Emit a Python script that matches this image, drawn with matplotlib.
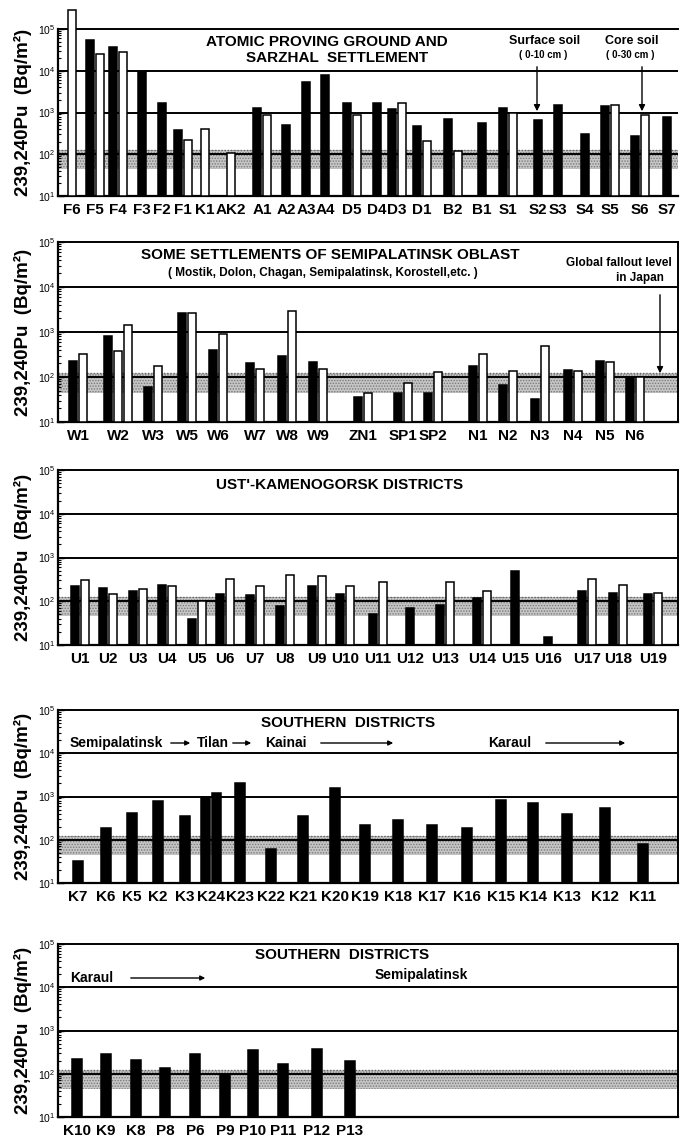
import matplotlib
matplotlib.use('Agg')
import matplotlib.pyplot as plt
from matplotlib import font_manager
from matplotlib.patches import FancyArrowPatch
from matplotlib.ticker import LogLocator, NullFormatter

# ---- data (Bq/m2), None = no bar, tuple = several bars of that kind ----
labels1 = ['F6', 'F5', 'F4', 'F3', 'F2', 'F1', 'K1', 'AK2', 'A1', 'A2', 'A3', 'A4', 'D5',
           'D4', 'D3', 'D1', 'B2', 'B1', 'S1', 'S2', 'S3', 'S4', 'S5', 'S6', 'S7']
black1 = [None, 5.5e4, 3.7e4, 9.5e3, 1.7e3, 390, None, None, 1.3e3, 500, 5.5e3, 8e3, 1.7e3,
          1.65e3, 1.2e3, 470, 690, 550, 1.3e3, 660, 1.5e3, 310, 1.43e3, 270, 770]
white1 = [2.8e5, 2.5e4, 2.8e4, None, None, 225, 400, 110, 870, None, None, None, 880,
          None, 1.7e3, 210, 120, None, 1.0e3, None, None, None, 1.55e3, 870, None]

labels2 = ['W1', 'W2', 'W3', 'W5', 'W6', 'W7', 'W8', 'W9', 'ZN1', 'SP1', 'SP2',
           'N1', 'N2', 'N3', 'N4', 'N5', 'N6']
black2 = [228, 800, 60, 2600, 400, 200, 300, 220, 36, 45, 43, 175, 65, 32, 140, 228, 102]
white2 = [330, (370, 1400), 180, 2700, 900, 150, 3000, 150, 43, 72, 130, 330, 134, 480, 134, 215, 100]

labels3 = ['U1', 'U2', 'U3', 'U4', 'U5', 'U6', 'U7', 'U8', 'U9', 'U10', 'U11', 'U12', 'U13',
           'U14', 'U15', 'U16', 'U17', 'U18', 'U19']
black3 = [228, 197, 175, 240, 39, 149, 137, 76, 228, 148, 51, 69, 81, 119, 500, 15, 175, 155, 144]
white3 = [300, 144, 190, 220, 100, 330, 220, 405, 370, 220, 270, None, 270, 170, None, None, 330, 235, 155]

labels4 = ['K7', 'K6', 'K5', 'K2', 'K3', 'K24', 'K23', 'K22', 'K21', 'K20', 'K19', 'K18',
           'K17', 'K16', 'K15', 'K14', 'K13', 'K12', 'K11']
black4 = [33, 188, 405, 780, 350, (950, 1200), 2000, 61, 350, 1550, 225, 280, 215, 190,
          820, 720, 390, 530, 81]

labels5 = ['K10', 'K9', 'K8', 'P8', 'P6', 'P9', 'P10', 'P11', 'P12', 'P13']
black5 = [218, 285, 210, 133, 280, 100, 355, 170, 370, 193]

band_low, band_high = 45, 125   # global fallout level in Japan

# ---- layout: label centres along each panel, in figure pixels ----
x1 = [72, 95, 118, 142, 162, 183, 205, 231, 262, 286, 306, 325, 352,
      377, 397, 422, 453, 482, 508, 538, 558, 585, 610, 640, 667]
x2 = [78, 118, 153, 187, 218, 255, 287, 318, 363, 403, 433, 478, 508, 540, 573, 605, 635]
x3 = [80, 108, 138, 167, 197, 225, 255, 285, 317, 345, 378, 410, 445, 482, 515, 548, 587, 618, 653]
x4 = [78, 106, 132, 158, 185, 211, 240, 271, 303, 335, 365, 398, 432, 467, 501, 533, 567, 605, 643]
x5 = [77, 106, 136, 165, 195, 225, 253, 283, 317, 350]

W, H = 680, 1147
names = {f.name for f in font_manager.fontManager.ttflist}
FONT = 'Liberation Sans Narrow' if 'Liberation Sans Narrow' in names else 'Liberation Sans'
plt.rcParams['font.family'] = [FONT, 'DejaVu Sans']
plt.rcParams['hatch.linewidth'] = 0.7

fig = plt.figure(figsize=(W / 100, H / 100), dpi=100)


def fp(x, y):
    return (x / W, 1 - y / H)


def as_list(v):
    if v is None:
        return []
    if isinstance(v, tuple):
        return list(v)
    return [v]


def make_ax(top, bottom, right_spine=True):
    ax = fig.add_axes([58 / W, 1 - bottom / H, 620 / W, (bottom - top) / H])
    ax.set_yscale('log')
    ax.set_xlim(58, 678)
    ax.set_ylim(10, 1e5)
    ax.axhspan(band_low, band_high, facecolor='#c6c6c6', edgecolor='#7a7a7a',
               hatch='......', linewidth=0, zorder=1)
    ax.axhline(band_high, color='#666666', lw=1.0, ls=(0, (1, 1.3)), zorder=1)
    for v in (1e2, 1e3, 1e4):
        ax.axhline(v, color='black', lw=1.4, zorder=2)
    for s in ('left', 'bottom'):
        ax.spines[s].set_linewidth(1.6)
    ax.spines['top'].set_linewidth(1.4)
    ax.spines['right'].set_linewidth(1.4)
    ax.spines['right'].set_visible(right_spine)
    ax.yaxis.set_major_locator(LogLocator(base=10, numticks=10))
    ax.yaxis.set_minor_locator(LogLocator(base=10, subs=range(2, 10), numticks=10))
    ax.yaxis.set_minor_formatter(NullFormatter())
    ax.tick_params(axis='y', which='major', direction='in', length=4, width=1, labelsize=7.5, pad=2)
    ax.tick_params(axis='y', which='minor', direction='in', length=2.5, width=0.8)
    ax.tick_params(axis='x', length=0, pad=5, labelsize=11)
    ax.set_ylabel('239,240Pu  (Bq/m²)', fontsize=13.5, fontweight='bold')
    ax.yaxis.set_label_coords(-0.042, 0.5)
    return ax


def draw_bars(ax, xs, labels, black, white, width, gap):
    for x, b, w in zip(xs, black, white):
        bars = [('black', v) for v in as_list(b)] + [('white', v) for v in as_list(w)]
        n = len(bars)
        start = x - (n * width + (n - 1) * gap) / 2 + width / 2
        for i, (col, v) in enumerate(bars):
            ax.bar(start + i * (width + gap), v - 10, bottom=10, width=width,
                   color=col, edgecolor='black', linewidth=1.1, zorder=3, clip_on=False)
    ax.set_xticks(xs)
    ax.set_xticklabels(labels, fontweight='bold')


def ftext(x, y, s, size=10.5, **kw):
    fig.text(*fp(x, y), s, fontsize=size, fontweight='bold', ha='center', va='center', **kw)


def farrow(x0, y0, x1_, y1_, ms=9):
    fig.add_artist(FancyArrowPatch(fp(x0, y0), fp(x1_, y1_), transform=fig.transFigure,
                                   arrowstyle='-|>', mutation_scale=ms, lw=1.0, color='black'))


# panel 1
ax1 = make_ax(29, 196, right_spine=False)
draw_bars(ax1, x1, labels1, black1, white1, 8.5, 1.5)
ftext(327, 42, 'ATOMIC PROVING GROUND AND', 11)
ftext(337, 58, 'SARZHAL  SETTLEMENT', 11)
ftext(545, 41, 'Surface soil', 9)
ftext(543, 55, '( 0-10 cm )', 7)
ftext(632, 41, 'Core soil', 9)
ftext(630, 55, '( 0-30 cm )', 7)
farrow(537, 64, 537, 114)
farrow(642, 64, 642, 114)

# panel 2
ax2 = make_ax(242, 422)
draw_bars(ax2, x2, labels2, black2, white2, 8.5, 1.5)
ftext(330, 255, 'SOME SETTLEMENTS OF SEMIPALATINSK OBLAST', 11)
ftext(323, 273, '( Mostik, Dolon, Chagan, Semipalatinsk, Korostell,etc. )', 8.5)
ftext(619, 263, 'Global fallout level', 8.5)
ftext(640, 278, 'in Japan', 8.5)
farrow(660, 292, 660, 376)

# panel 3
ax3 = make_ax(470, 645)
draw_bars(ax3, x3, labels3, black3, white3, 8.5, 1.5)
ftext(340, 485, "UST'-KAMENOGORSK DISTRICTS", 11)

# panel 4
ax4 = make_ax(710, 883)
draw_bars(ax4, x4, labels4, black4, [None] * len(black4), 9.5, 1.5)
ftext(348, 723, 'SOUTHERN  DISTRICTS', 11)
ftext(116, 743, 'Semipalatinsk', 10)
farrow(168, 743, 193, 743, 7)
ftext(213, 743, 'Tilan', 10)
farrow(230, 743, 254, 743, 7)
ftext(286, 743, 'Kainai', 10)
farrow(318, 743, 396, 743, 7)
ftext(510, 743, 'Karaul', 10)
farrow(543, 743, 628, 743, 7)

# panel 5
ax5 = make_ax(944, 1117)
draw_bars(ax5, x5, labels5, black5, [None] * len(black5), 9.5, 1.5)
ftext(342, 955, 'SOUTHERN  DISTRICTS', 11)
ftext(421, 975, 'Semipalatinsk', 10)
ftext(92, 978, 'Karaul', 10)
farrow(128, 978, 208, 978, 7)

fig.savefig('out.png', dpi=100)
